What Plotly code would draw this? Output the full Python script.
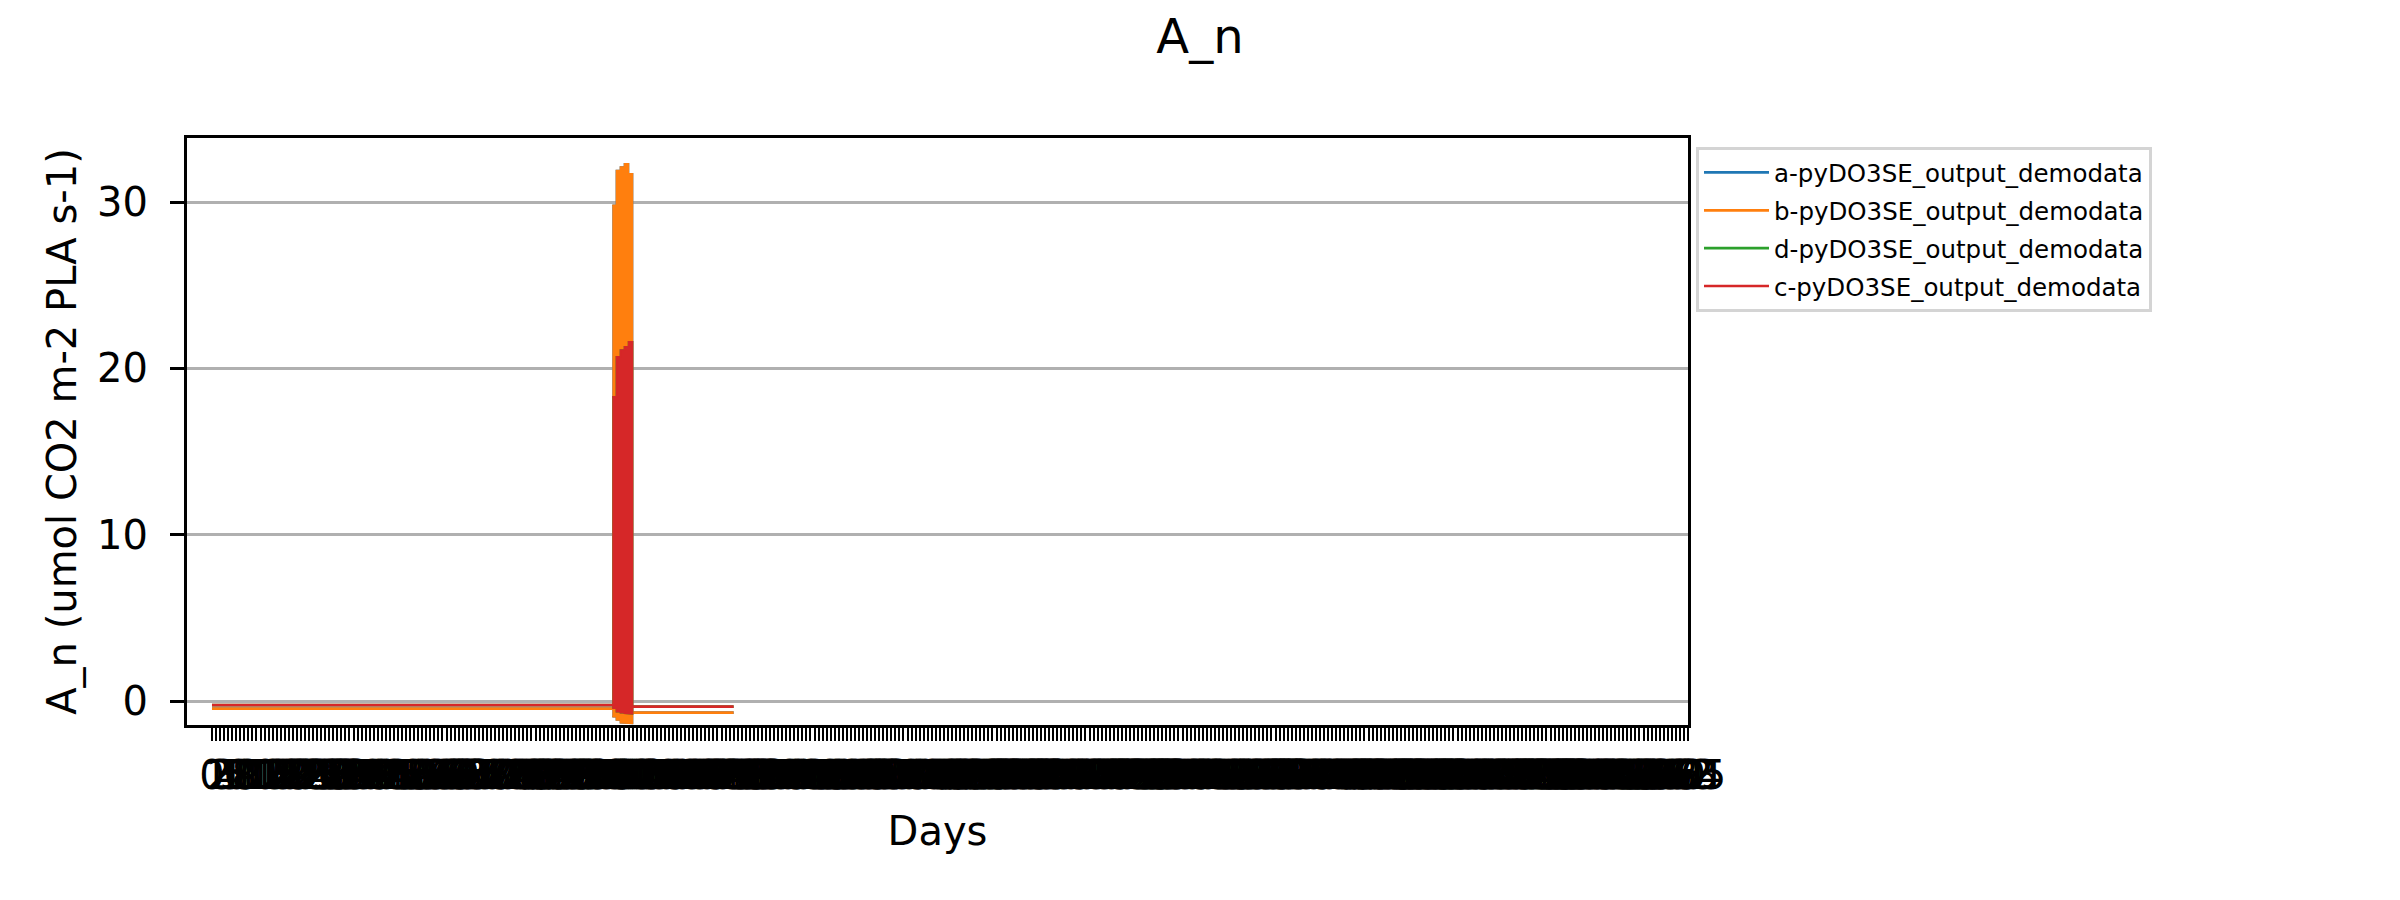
import plotly.graph_objects as go

# ---- data ----
day_labels = [str(d) for d in range(0, 366)]          # categorical day ticks
tick_positions = list(range(0, 366))

series_names = ["a-pyDO3SE_output_demodata", "b-pyDO3SE_output_demodata",
                "d-pyDO3SE_output_demodata", "c-pyDO3SE_output_demodata"]
series_colors = ["#1f77b4", "#ff7f0e", "#2ca02c", "#d62728"]

# baseline (night / off-season) line: breakpoints day -> value
b_line_days = [0, 99, 104, 129]
b_line_vals = [-0.46, -0.46, -0.70, -0.70]
c_line_days = [0, 99, 104, 129]
c_line_vals = [-0.24, -0.24, -0.34, -0.34]

# growing spike: daily max / min for each day interval
spike_days = [99, 100, 101, 102, 103, 104]
b_spike_max = [29.8, 31.9, 32.1, 32.3, 31.7]
b_spike_min = [-0.94, -1.14, -1.30, -1.34, -1.34]
c_spike_max = [18.3, 20.7, 21.1, 21.3, 21.6]
c_spike_min = [-0.44, -0.64, -0.70, -0.74, -0.78]

# a and d coincide with b and c (hidden beneath them)
a_line_days, a_line_vals, a_spike_max, a_spike_min = b_line_days, b_line_vals, b_spike_max, b_spike_min
d_line_days, d_line_vals, d_spike_max, d_spike_min = c_line_days, c_line_vals, c_spike_max, c_spike_min

y_ticks = [0, 10, 20, 30]


def step_polygon(days, tops, bottoms):
    xs, ys = [], []
    for i, t in enumerate(tops):
        xs += [days[i], days[i + 1]]
        ys += [t, t]
    for i in range(len(bottoms) - 1, -1, -1):
        xs += [days[i + 1], days[i]]
        ys += [bottoms[i], bottoms[i]]
    return xs, ys


fig = go.Figure()
all_series = [
    (a_line_days, a_line_vals, a_spike_max, a_spike_min),
    (b_line_days, b_line_vals, b_spike_max, b_spike_min),
    (d_line_days, d_line_vals, d_spike_max, d_spike_min),
    (c_line_days, c_line_vals, c_spike_max, c_spike_min),
]
for k, (ld, lv, smax, smin) in enumerate(all_series):
    name, col = series_names[k], series_colors[k]
    fig.add_trace(go.Scatter(x=ld, y=lv, mode="lines", name=name,
                             legendgroup=name,
                             line=dict(color=col, width=2.7)))
    px, py = step_polygon(spike_days, smax, smin)
    fig.add_trace(go.Scatter(x=px, y=py, mode="lines", fill="toself",
                             fillcolor=col, line=dict(color=col, width=1.5),
                             legendgroup=name, showlegend=False))

font_family = "DejaVu Sans"
fig.update_layout(
    width=2400, height=900,
    margin=dict(l=187, r=712, t=138, b=175),
    paper_bgcolor="white", plot_bgcolor="white",
    font=dict(family=font_family, size=40, color="black"),
    title=dict(text="A_n", x=0.5, xref="container", xanchor="center",
               y=1 - 36 / 900, yref="container", yanchor="middle",
               font=dict(size=48, family=font_family, color="black")),
    showlegend=True,
    legend=dict(x=(1696 - 187) / 1501, xanchor="left",
                y=(725 - 147) / 587, yanchor="top",
                font=dict(size=24.5, family=font_family, color="black"),
                bgcolor="white", bordercolor="#d4d4d4", borderwidth=3,
                traceorder="grouped", tracegroupgap=3, itemwidth=65),
)
fig.update_xaxes(
    range=[-6.18, 365], tickmode="array", tickvals=tick_positions, ticktext=day_labels,
    tickangle=0, ticks="outside", ticklen=13, tickwidth=2.4, tickcolor="black",
    tickfont=dict(size=40, family=font_family, color="black"),
    showline=True, linecolor="black", linewidth=3.2, mirror=True,
    showgrid=False, zeroline=False,
    title=dict(text="Days", standoff=20, font=dict(size=40, family=font_family)),
)
fig.update_yaxes(
    range=[-1.44, 33.85], tickmode="array", tickvals=y_ticks,
    ticks="outside", ticklen=14, tickwidth=3.2, tickcolor="black",
    ticklabelstandoff=14,
    tickfont=dict(size=40, family=font_family, color="black"),
    showline=True, linecolor="black", linewidth=3.2, mirror=True,
    showgrid=True, gridcolor="#b0b0b0", gridwidth=3.2, zeroline=False,
    title=dict(text="A_n (umol CO2 m-2 PLA s-1)", standoff=8,
               font=dict(size=40, family=font_family)),
)

fig.write_html("out.html")
